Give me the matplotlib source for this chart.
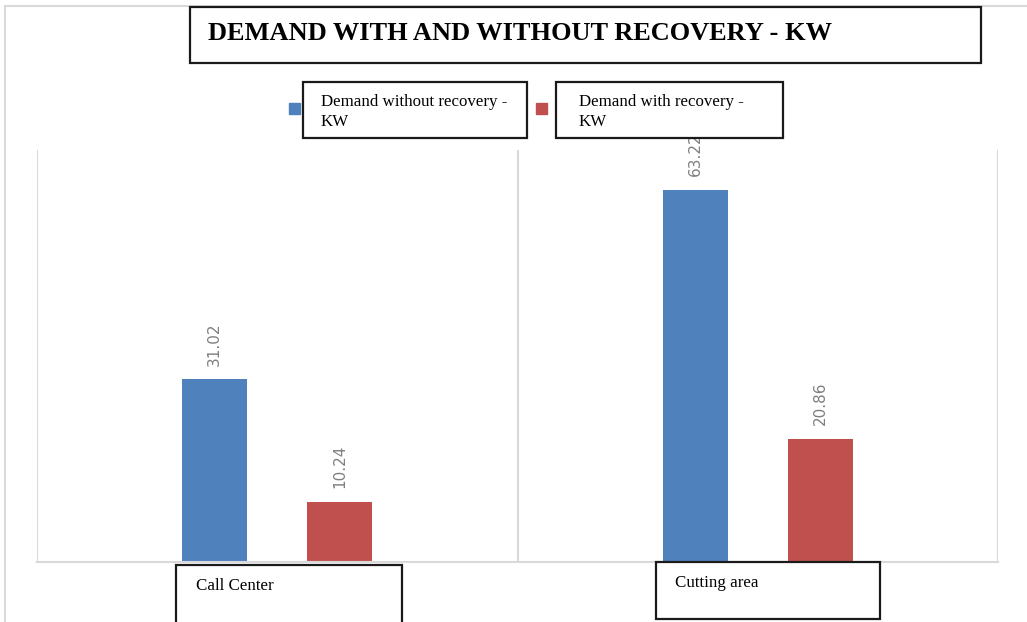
import matplotlib
matplotlib.use('Agg')
import matplotlib.pyplot as plt
from matplotlib.patches import Rectangle
from matplotlib.lines import Line2D
import numpy as np

categories = ['Call Center', 'Cutting area']
series = ['Demand without recovery -\nKW', 'Demand with recovery -\nKW']
without_recovery = [31.02, 63.22]
with_recovery = [10.24, 20.86]
title = 'DEMAND WITH AND WITHOUT RECOVERY - KW'

colors = ['#4F81BD', '#C0504D']
W, H = 1027, 622


def px(x, y):
    # pixel position (from top-left) -> figure fraction
    return x / W, 1 - y / H


def box(x0, y0, x1, y1):
    fx0, fy1 = px(x0, y0)
    fx1, fy0 = px(x1, y1)
    r = Rectangle((fx0, fy0), fx1 - fx0, fy1 - fy0, transform=fig.transFigure,
                  facecolor='white', edgecolor='#1a1a1a', linewidth=1.6, zorder=5)
    fig.add_artist(r)


def label(x, y, s, **kw):
    fx, fy = px(x, y)
    fig.text(fx, fy, s, transform=fig.transFigure, zorder=6, **kw)


fig = plt.figure(figsize=(W / 100, H / 100), dpi=100)

# outer chart frame (light gray)
fig.add_artist(Line2D([5 / W, 5 / W], [0, 1 - 6 / H], transform=fig.transFigure,
                      color='#d9d9d9', lw=1.5))
fig.add_artist(Line2D([5 / W, 1], [1 - 6 / H, 1 - 6 / H], transform=fig.transFigure,
                      color='#d9d9d9', lw=1.5))

ax = fig.add_axes([37 / W, 60 / H, 961 / W, 412 / H])
x = np.arange(len(categories))
bw = 0.135
off = 0.13
b1 = ax.bar(x - off, without_recovery, bw, color=colors[0], zorder=2)
b2 = ax.bar(x + off, with_recovery, bw, color=colors[1], zorder=2)

for bars in (b1, b2):
    for rect in bars:
        h = rect.get_height()
        ax.annotate('%.2f' % h, (rect.get_x() + rect.get_width() / 2, h),
                    xytext=(0, 10), textcoords='offset points', rotation=90,
                    ha='center', va='bottom', color='#7f7f7f', fontsize=11,
                    annotation_clip=False)

ax.set_xlim(-0.5, 1.5)
ax.set_ylim(0, 70)
for v in (-0.5, 0.5, 1.5):
    ax.axvline(v, color='#d9d9d9', lw=1.5, zorder=1)
for s in ('top', 'left', 'right'):
    ax.spines[s].set_visible(False)
ax.spines['bottom'].set_color('#d9d9d9')
ax.spines['bottom'].set_linewidth(1.5)
ax.set_xticks([])
ax.set_yticks([])

# title box
box(190, 7, 981, 63)
label(208, 33, title, fontsize=19, fontweight='bold', family='Liberation Serif',
      va='center', ha='left')

# legend markers
for sx, c in zip((289, 536), colors):
    fx0, fy1 = px(sx, 103)
    fig.add_artist(Rectangle((fx0, fy1 - 11 / H), 11 / W, 11 / H,
                             transform=fig.transFigure, color=c, zorder=4))

# legend boxes
box(303, 82, 527, 138)
label(321, 112, series[0], fontsize=12.2, family='Liberation Serif',
      va='center', ha='left', linespacing=1.25)
box(556, 82, 783, 138)
label(579, 112, series[1], fontsize=12.2, family='Liberation Serif',
      va='center', ha='left', linespacing=1.25)

# category boxes
box(176, 565, 402, 626)
label(196, 586, categories[0], fontsize=12.2, family='Liberation Serif',
      va='center', ha='left')
box(656, 562, 880, 619)
label(675, 583, categories[1], fontsize=12.2, family='Liberation Serif',
      va='center', ha='left')

fig.savefig('out.png', dpi=100)
